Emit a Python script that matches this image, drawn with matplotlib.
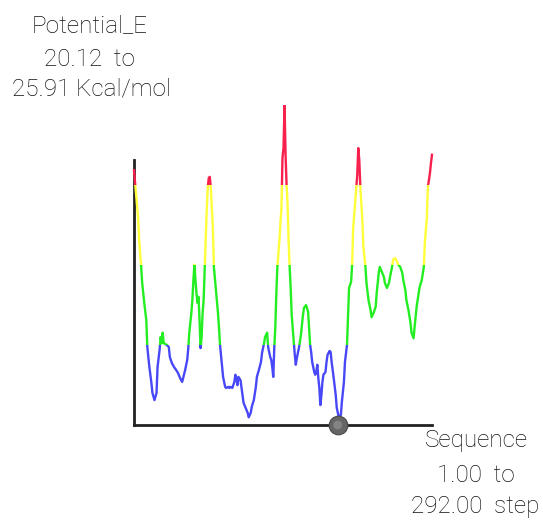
import matplotlib
matplotlib.use("Agg")
import matplotlib.pyplot as plt
from matplotlib.patches import Rectangle

# sequence step and potential energy (Kcal/mol)
steps = [1, 5, 6, 8, 9, 11, 13, 14, 16, 18, 19, 21, 23, 24, 26, 27, 28, 29, 30,
         33, 35, 36, 38, 40, 42, 44, 46, 48, 49, 51, 53, 54, 55, 56, 57, 58, 59,
         60, 61, 62, 63, 64, 65, 66, 67, 68, 69, 70, 71, 72, 73, 74, 75, 76, 78,
         79, 81, 83, 84, 85, 87, 88, 90, 91, 93, 94, 95, 97, 99, 100, 101, 102,
         103, 105, 106, 107, 108, 110, 112, 113, 115, 116, 118, 120, 121, 123,
         125, 126, 128, 129, 131, 132, 134, 135, 136, 137, 138, 139, 140, 141,
         143, 145, 146, 147, 148, 149, 150, 151, 152, 153, 154, 155, 157, 158,
         159, 160, 162, 163, 164, 165, 166, 167, 169, 171, 172, 173, 174, 175,
         177, 178, 179, 180, 181, 182, 183, 184, 185, 186, 188, 189, 190, 192,
         193, 194, 196, 198, 199, 201, 203, 204, 206, 207, 209, 210, 211, 213,
         214, 215, 217, 219, 220, 221, 222, 224, 225, 227, 228, 230, 232, 233,
         235, 237, 238, 240, 241, 243, 245, 246, 248, 250, 251, 253, 254, 256,
         258, 259, 261, 263, 264, 266, 267, 269, 271, 272, 274, 275, 277, 279,
         280, 282, 284, 285, 287, 288, 290, 291, 292]
energy = [24.73, 23.88, 23.47, 22.98, 22.69, 22.33, 22.02, 21.53, 21.17, 20.88,
          20.70, 20.57, 20.70, 21.17, 21.48, 21.71, 21.60, 21.79, 21.60, 21.57,
          21.53, 21.35, 21.24, 21.17, 21.12, 21.06, 20.97, 20.90, 20.97, 21.12,
          21.30, 21.51, 21.79, 21.97, 22.15, 22.38, 22.74, 23.02, 22.74, 22.51,
          22.33, 22.44, 22.02, 21.51, 21.71, 22.15, 22.38, 22.93, 23.47, 24.01,
          24.41, 24.59, 24.61, 24.41, 23.70, 22.98, 22.56, 22.15, 21.88, 21.57,
          21.17, 20.99, 20.81, 20.79, 20.81, 20.79, 20.81, 20.79, 20.90, 21.03,
          20.97, 20.84, 20.99, 20.93, 20.79, 20.66, 20.52, 20.43, 20.34, 20.26,
          20.34, 20.45, 20.57, 20.81, 20.99, 21.12, 21.26, 21.42, 21.60, 21.71,
          21.79, 21.53, 21.35, 21.30, 21.17, 20.99, 21.53, 21.89, 22.51, 22.98,
          23.47, 24.06, 24.95, 25.13, 25.91, 25.01, 24.46, 24.10, 23.43, 22.98,
          22.60, 22.11, 21.62, 21.39, 21.21, 21.33, 21.51, 21.62, 21.75, 21.93,
          22.11, 22.24, 22.29, 22.17, 21.88, 21.57, 21.44, 21.26, 21.08, 21.03,
          21.08, 21.21, 20.97, 20.79, 20.48, 20.66, 20.90, 21.03, 21.08, 21.26,
          21.39, 21.46, 21.44, 21.26, 20.97, 20.66, 20.43, 20.26, 20.30, 20.54,
          20.90, 21.26, 21.57, 22.11, 22.60, 22.71, 23.02, 23.68, 24.16, 24.64,
          25.13, 24.91, 24.43, 23.83, 23.34, 22.98, 22.69, 22.38, 22.20, 22.07,
          22.15, 22.26, 22.51, 22.87, 22.98, 22.89, 22.80, 22.69, 22.60, 22.69,
          22.80, 22.98, 23.11, 23.14, 23.07, 23.02, 22.98, 22.87, 22.74, 22.56,
          22.38, 22.20, 21.97, 21.79, 21.69, 21.89, 22.26, 22.51, 22.62, 22.74,
          22.98, 23.41, 23.88, 24.43, 24.68, 24.86, 25.01]

e_min, e_max = 20.12, 25.91
seq_min, seq_max = 1.00, 292.00
current_step = 200
band_colors = ["#4848f8", "#22ee22", "#ffff3a", "#f8204c"]

fig = plt.figure(figsize=(5.43, 5.20), dpi=100)
ax = fig.add_axes([134 / 543, 95 / 520, 298 / 543, 320 / 520])
ax.set_xlim(seq_min, seq_max)
ax.set_ylim(e_min, e_max)
ax.axis("off")

# colour the curve by energy quarter, using a clip rectangle per band
band = (e_max - e_min) / 4
for i, col in enumerate(band_colors):
    lo = e_min + i * band
    clip = Rectangle((seq_min - 5, lo), seq_max - seq_min + 10, band,
                     transform=ax.transData, facecolor="none", edgecolor="none")
    ax.add_patch(clip)
    line, = ax.plot(steps, energy, color=col, lw=1.7, zorder=3)
    line.set_clip_path(clip)

# axes lines
axis_top = 24.92
ax.plot([seq_min, seq_min], [e_min, axis_top], color="#222222", lw=2,
        clip_on=False, zorder=2)
ax.plot([seq_min, seq_max], [e_min, e_min], color="#222222", lw=2,
        clip_on=False, zorder=2)

# current position marker
ax.scatter([current_step], [e_min], s=180, color="#666666", edgecolor="#4a4a4a",
           linewidth=0.8, zorder=5, clip_on=False)
ax.scatter([current_step], [e_min], s=40, color="#8c8c8c", edgecolor="none",
           zorder=6, clip_on=False, alpha=0.8)

font = dict(family=["Roboto", "DejaVu Sans"], fontweight="light", fontsize=17.5,
            color="#111111", ha="center", va="center")
fig.text(90 / 543, 1 - 26 / 520, "Potential_E", **font)
fig.text(90 / 543, 1 - 60 / 520, f"{e_min:.2f}  to", **font)
fig.text(91 / 543, 1 - 89 / 520, f"{e_max:.2f} Kcal/mol", **font)
fig.text(476 / 543, 1 - 440 / 520, "Sequence", **font)
fig.text(476 / 543, 1 - 475 / 520, f"{seq_min:.2f}  to", **font)
fig.text(475 / 543, 1 - 507 / 520, f"{seq_max:.2f}  step", **font)

fig.savefig("out.png", dpi=100, facecolor="white")
